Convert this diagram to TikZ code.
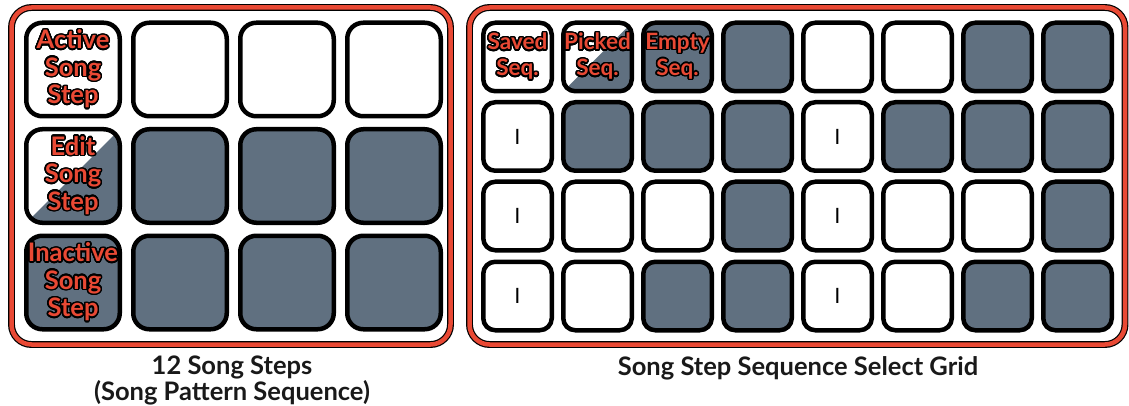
\documentclass[tikz,border=0pt]{standalone}
\usepackage{fontspec}
\setmainfont{Lato}
\newfontfamily\barfont{Liberation Sans}
\usepackage{contour}
\contourlength{1.5pt}
\contournumber{24}

\definecolor{padred}{RGB}{233,73,52}
\definecolor{padgray}{RGB}{96,112,128}
\newcommand{\lbl}[1]{\contour{black}{#1}}

\tikzset{
  panel/.style={rectangle, rounded corners=20pt, draw=black, double=padred,
    double distance=4.5pt, line width=1.2pt, inner sep=0pt},
  bigpad/.style={rectangle, rounded corners=16pt, draw=black, line width=4.5pt,
    minimum size=93.5pt, inner sep=0pt, fill=white, text=padred, align=center,
    font=\bfseries\fontsize{25.5}{27.5}\selectfont},
  smallpad/.style={rectangle, rounded corners=12pt, draw=black, line width=4.5pt,
    minimum size=68.5pt, inner sep=0pt, fill=white, text=padred, align=center,
    font=\bfseries\fontsize{22.5}{26}\selectfont},
  padoff/.style={fill=padgray},
  halfpad/.style={path picture={\fill[padgray, sharp corners]
    (path picture bounding box.south west) -- (path picture bounding box.north east)
    -- (path picture bounding box.south east) -- cycle;}},
  barpad/.style={text=black, font=\barfont\fontsize{22}{22}\selectfont},
  title/.style={text=black!90, align=center, font=\bfseries\fontsize{25.5}{24}\selectfont}
}

\begin{document}
\begin{tikzpicture}[x=1pt, y=-1pt]
  \useasboundingbox (0,0) rectangle (1129,406);

  % outer frames
  \node[panel, minimum width=439pt, minimum height=337pt] (steps) at (231,176) {};
  \node[panel, minimum width=655.5pt, minimum height=337pt] (grid) at (797.25,176) {};

  % 12 song steps
  \node[bigpad] (s1) at (73,69.5) {\lbl{Active}\\\lbl{Song}\\\lbl{Step}};
  \node[bigpad] (s2) at (180,69.5) {};
  \node[bigpad] (s3) at (287,69.5) {};
  \node[bigpad] (s4) at (394,69.5) {};
  \node[bigpad, halfpad] (s5) at (73,176) {\lbl{Edit}\\\lbl{Song}\\\lbl{Step}};
  \node[bigpad, padoff] (s6) at (180,176) {};
  \node[bigpad, padoff] (s7) at (287,176) {};
  \node[bigpad, padoff] (s8) at (394,176) {};
  \node[bigpad, padoff] (s9) at (73,282.5) {\lbl{Inactive}\\\lbl{Song}\\\lbl{Step}};
  \node[bigpad, padoff] (s10) at (180,282.5) {};
  \node[bigpad, padoff] (s11) at (287,282.5) {};
  \node[bigpad, padoff] (s12) at (394,282.5) {};

  % select grid
  \node[smallpad] (g11) at (517.5,57) {\lbl{Saved}\\\lbl{Seq.}};
  \node[smallpad, halfpad] (g12) at (597.5,57) {\lbl{Picked}\\\lbl{Seq.}};
  \node[smallpad, padoff] (g13) at (677.5,57) {\lbl{Empty}\\\lbl{Seq.}};
  \node[smallpad, padoff] (g14) at (757.5,57) {};
  \node[smallpad] (g15) at (837.5,57) {};
  \node[smallpad] (g16) at (917.5,57) {};
  \node[smallpad, padoff] (g17) at (997.5,57) {};
  \node[smallpad, padoff] (g18) at (1077.5,57) {};

  \node[smallpad, barpad] (g21) at (517.5,136.5) {I};
  \node[smallpad, padoff] (g22) at (597.5,136.5) {};
  \node[smallpad, padoff] (g23) at (677.5,136.5) {};
  \node[smallpad, padoff] (g24) at (757.5,136.5) {};
  \node[smallpad, barpad] (g25) at (837.5,136.5) {I};
  \node[smallpad, padoff] (g26) at (917.5,136.5) {};
  \node[smallpad, padoff] (g27) at (997.5,136.5) {};
  \node[smallpad, padoff] (g28) at (1077.5,136.5) {};

  \node[smallpad, barpad] (g31) at (517.5,216) {I};
  \node[smallpad] (g32) at (597.5,216) {};
  \node[smallpad] (g33) at (677.5,216) {};
  \node[smallpad, padoff] (g34) at (757.5,216) {};
  \node[smallpad, barpad] (g35) at (837.5,216) {I};
  \node[smallpad] (g36) at (917.5,216) {};
  \node[smallpad] (g37) at (997.5,216) {};
  \node[smallpad, padoff] (g38) at (1077.5,216) {};

  \node[smallpad, barpad] (g41) at (517.5,296) {I};
  \node[smallpad] (g42) at (597.5,296) {};
  \node[smallpad, padoff] (g43) at (677.5,296) {};
  \node[smallpad, padoff] (g44) at (757.5,296) {};
  \node[smallpad, barpad] (g45) at (837.5,296) {I};
  \node[smallpad] (g46) at (917.5,296) {};
  \node[smallpad, padoff] (g47) at (997.5,296) {};
  \node[smallpad, padoff] (g48) at (1077.5,296) {};

  % captions
  \node[title] (t1) at (232,380.5) {12 Song Steps\\(Song Pattern Sequence)};
  \node[title] (t2) at (798,368) {Song Step Sequence Select Grid};
\end{tikzpicture}
\end{document}
